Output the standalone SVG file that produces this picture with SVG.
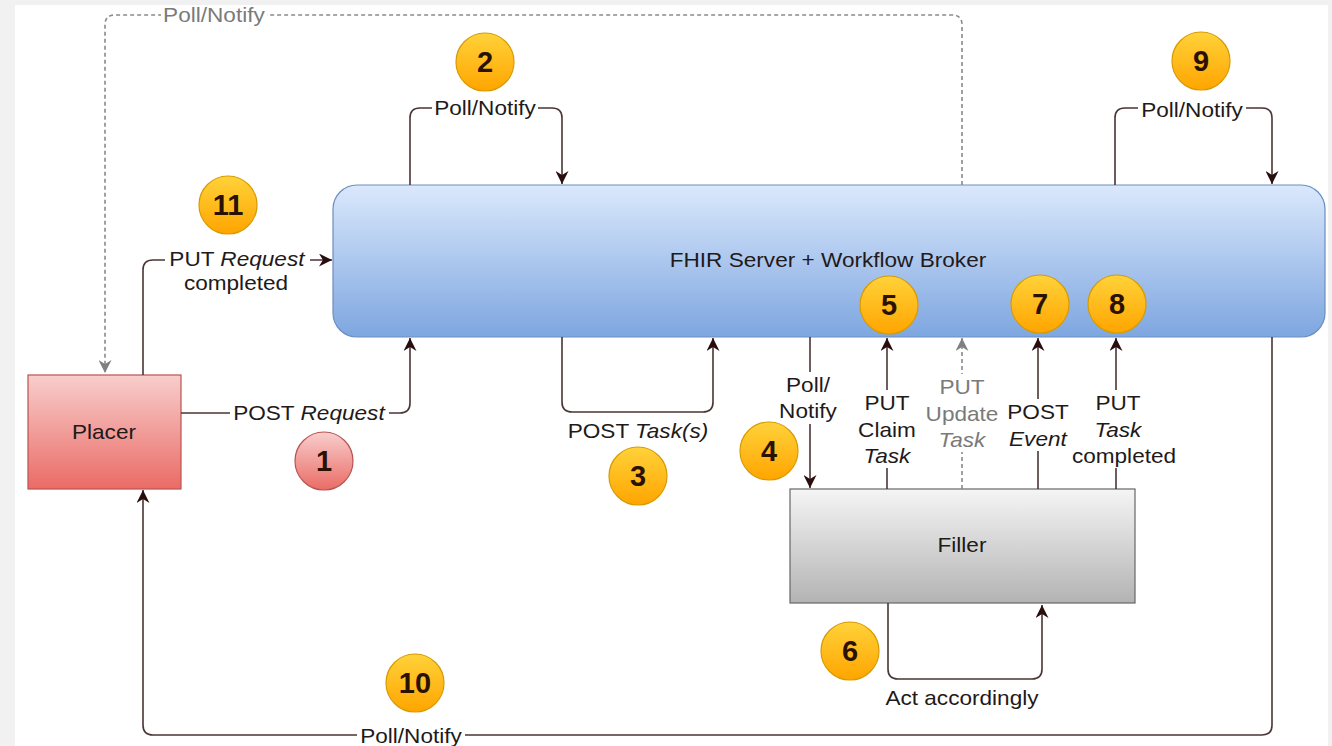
<svg xmlns="http://www.w3.org/2000/svg" width="1332" height="746" viewBox="0 0 1332 746">
<defs>
<linearGradient id="gBlue" x1="0" y1="0" x2="0" y2="1"><stop offset="0" stop-color="#dae8fc"/><stop offset="1" stop-color="#7ea6e0"/></linearGradient>
<linearGradient id="gRed" x1="0" y1="0" x2="0" y2="1"><stop offset="0" stop-color="#f8cecc"/><stop offset="1" stop-color="#ea6b66"/></linearGradient>
<linearGradient id="gGray" x1="0" y1="0" x2="0" y2="1"><stop offset="0" stop-color="#f5f5f5"/><stop offset="1" stop-color="#b3b3b3"/></linearGradient>
<linearGradient id="gOrange" x1="0" y1="0" x2="0" y2="1"><stop offset="0" stop-color="#ffd23a"/><stop offset="1" stop-color="#ffa500"/></linearGradient>
<marker id="arr" viewBox="0 0 10 10" refX="10" refY="5" markerWidth="13" markerHeight="13" markerUnits="userSpaceOnUse" orient="auto"><path d="M0,0 L10,5 L0,10 L3,5 z" fill="#2a0d0d"/></marker>
<marker id="arrG" viewBox="0 0 10 10" refX="10" refY="5" markerWidth="13" markerHeight="13" markerUnits="userSpaceOnUse" orient="auto"><path d="M0,0 L10,5 L0,10 L3,5 z" fill="#808080"/></marker>
</defs>
<style>
.lbl { font-family: "Liberation Sans", Arial, sans-serif; font-size: 20px; fill: #221919; text-anchor: middle; transform-box: fill-box; transform-origin: center; transform: scaleX(1.13); }
.it { font-style: italic; }
.gray { fill: #7a7a7a; }
.cut { fill: #ffffff; }
.line { fill: none; stroke: #4a3535; stroke-width: 1.6; marker-end: url(#arr); }
.dash { fill: none; stroke: #8a8a8a; stroke-width: 1.6; stroke-dasharray: 4 3; marker-end: url(#arrG); }
.badge circle { fill: url(#gOrange); stroke: #d79b00; stroke-width: 1.2; }
.badge.red circle { fill: url(#gRed); stroke: #b85450; }
.badge text { font-family: "Liberation Sans", Arial, sans-serif; font-weight: bold; font-size: 29px; fill: #2b1200; text-anchor: middle; }
</style>
<rect x="0" y="0" width="1332" height="746" fill="#f1f1f1"/>
<rect x="15" y="5" width="1313" height="741" fill="#ffffff"/>

<g id="fhir">
<rect x="333" y="185" width="992" height="152" rx="24" fill="url(#gBlue)" stroke="#6c8ebf" stroke-width="1.2"/>
<text class="lbl" x="828" y="267">FHIR Server + Workflow Broker</text>
</g>
<g id="placer">
<rect x="28" y="375" width="153" height="114" fill="url(#gRed)" stroke="#b85450" stroke-width="1.2"/>
<text class="lbl" x="104" y="439">Placer</text>
</g>
<g id="filler">
<rect x="790" y="489" width="345" height="114" fill="url(#gGray)" stroke="#666666" stroke-width="1.2"/>
<text class="lbl" x="962" y="552">Filler</text>
</g>

<g id="connectors">
<path class="dash" d="M962,185 V25 Q962,15 952,15 H115 Q105,15 105,25 V373"/>
<path class="line" d="M181,413 H400 Q410,413 410,403 V338"/>
<path class="line" d="M410,185 V118 Q410,108 420,108 H552 Q562,108 562,118 V184"/>
<path class="line" d="M562,337 V402 Q562,412 572,412 H703 Q713,412 713,402 V338"/>
<path class="line" d="M810,337 V488"/>
<path class="line" d="M887,489 V338"/>
<path class="dash" d="M962,489 V338"/>
<path class="line" d="M1038,489 V338"/>
<path class="line" d="M1116,489 V338"/>
<path class="line" d="M888,603 V669 Q888,679 898,679 H1032 Q1042,679 1042,669 V605"/>
<path class="line" d="M1115,185 V118 Q1115,108 1125,108 H1262 Q1272,108 1272,118 V184"/>
<path class="line" d="M1272,337 V725 Q1272,735 1262,735 H153 Q143,735 143,725 V490"/>
<path class="line" d="M143,375 V270 Q143,260 153,260 H332"/>
</g>

<g id="labels">
<rect class="cut" x="161" y="5" width="106" height="21"/>
<text class="lbl gray" x="214" y="22">Poll/Notify</text>
<rect class="cut" x="230" y="402" width="159" height="22"/>
<text class="lbl" x="309" y="420">POST <tspan class="it">Request</tspan></text>
<rect class="cut" x="432" y="98" width="106" height="22"/>
<text class="lbl" x="485" y="115">Poll/Notify</text>
<text class="lbl" x="638" y="438">POST <tspan class="it">Task(s)</tspan></text>
<rect class="cut" x="780" y="372" width="58" height="52"/>
<text class="lbl" x="808" y="392">Poll/</text>
<text class="lbl" x="808" y="418">Notify</text>
<rect class="cut" x="860" y="390" width="54" height="78"/>
<text class="lbl" x="887" y="410">PUT</text>
<text class="lbl" x="887" y="437">Claim</text>
<text class="lbl it" x="887" y="463">Task</text>
<rect class="cut" x="930" y="374" width="64" height="78"/>
<text class="lbl gray" x="962" y="394">PUT</text>
<text class="lbl gray" x="962" y="421">Update</text>
<text class="lbl gray it" x="962" y="447">Task</text>
<rect class="cut" x="1005" y="399" width="66" height="52"/>
<text class="lbl" x="1038" y="419">POST</text>
<text class="lbl it" x="1038" y="446">Event</text>
<rect class="cut" x="1073" y="390" width="104" height="78"/>
<text class="lbl" x="1118" y="410">PUT</text>
<text class="lbl it" x="1118" y="437">Task</text>
<text class="lbl" x="1124" y="463">completed</text>
<text class="lbl" x="962" y="705">Act accordingly</text>
<rect class="cut" x="1138" y="98" width="108" height="22"/>
<text class="lbl" x="1192" y="117">Poll/Notify</text>
<rect class="cut" x="357" y="725" width="108" height="21"/>
<text class="lbl" x="411" y="743">Poll/Notify</text>
<rect class="cut" x="165" y="249" width="145" height="22"/>
<text class="lbl" x="237" y="266">PUT <tspan class="it">Request</tspan></text>
<text class="lbl" x="236" y="290">completed</text>
</g>

<g id="badge1" class="badge red"><circle cx="324" cy="461" r="29"/><text x="324" y="471">1</text></g>
<g id="badge2" class="badge"><circle cx="485" cy="62" r="29"/><text x="485" y="72">2</text></g>
<g id="badge3" class="badge"><circle cx="638" cy="476" r="29"/><text x="638" y="486">3</text></g>
<g id="badge4" class="badge"><circle cx="769" cy="451" r="29"/><text x="769" y="461">4</text></g>
<g id="badge5" class="badge"><circle cx="889" cy="305" r="29"/><text x="889" y="315">5</text></g>
<g id="badge6" class="badge"><circle cx="850" cy="651" r="29"/><text x="850" y="661">6</text></g>
<g id="badge7" class="badge"><circle cx="1040" cy="304" r="29"/><text x="1040" y="314">7</text></g>
<g id="badge8" class="badge"><circle cx="1117" cy="304" r="29"/><text x="1117" y="314">8</text></g>
<g id="badge9" class="badge"><circle cx="1201" cy="61" r="29"/><text x="1201" y="71">9</text></g>
<g id="badge10" class="badge"><circle cx="415" cy="683" r="29"/><text x="415" y="693">10</text></g>
<g id="badge11" class="badge"><circle cx="228" cy="205" r="29"/><text x="228" y="215">11</text></g>
</svg>
